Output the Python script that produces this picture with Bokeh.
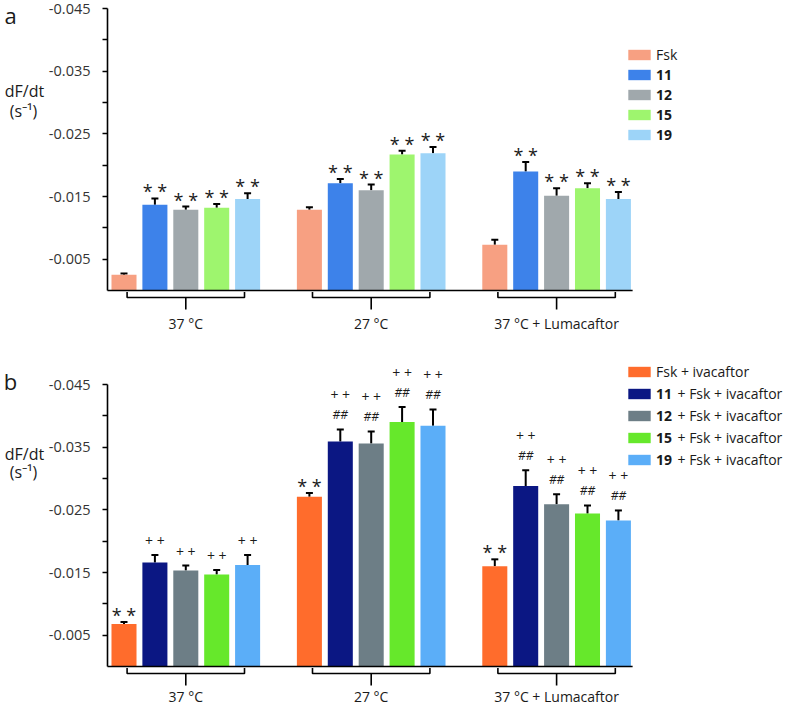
from bokeh.plotting import figure
from bokeh.layouts import column
from bokeh.models import (ColumnDataSource, Range1d, FixedTicker, NumeralTickFormatter,
                          Whisker, TeeHead, Label, Legend, LegendItem, LinearAxis)
from bokeh.core.properties import value
from bokeh.embed import file_html
from bokeh.resources import INLINE

# ---------------- data ----------------
groups = ["37 °C", "27 °C", "37 °C + Lumacaftor"]
y_ticks = [-0.045, -0.035, -0.025, -0.015, -0.005]
y_minor = [-0.040, -0.030, -0.020, -0.010]

# panel a
a_names = ["Fsk", "11", "12", "15", "19"]
a_fsk = [-0.0025, -0.0129, -0.0073]
a_fsk_err = [0.0002, 0.0004, 0.0008]
a_11 = [-0.0137, -0.0171, -0.0190]
a_11_err = [0.0010, 0.0007, 0.0015]
a_12 = [-0.0129, -0.0160, -0.0151]
a_12_err = [0.0005, 0.0009, 0.0012]
a_15 = [-0.0132, -0.0217, -0.0163]
a_15_err = [0.0006, 0.0006, 0.0008]
a_19 = [-0.0146, -0.0219, -0.0146]
a_19_err = [0.0009, 0.0010, 0.0011]
a_star = {"Fsk": ["", "", ""], "11": ["**", "**", "**"], "12": ["**", "**", "**"],
          "15": ["**", "**", "**"], "19": ["**", "**", "**"]}
a_colors = ["#F7A082", "#3D82EA", "#A0A8AC", "#9EF56E", "#9DD4F8"]

# panel b
b_names = ["Fsk + ivacaftor", "11", "12", "15", "19"]
b_suffix = "+ Fsk + ivacaftor"
b_fsk = [-0.0068, -0.0271, -0.0160]
b_fsk_err = [0.0003, 0.0006, 0.0011]
b_11 = [-0.0166, -0.0359, -0.0288]
b_11_err = [0.0012, 0.0019, 0.0025]
b_12 = [-0.0153, -0.0356, -0.0259]
b_12_err = [0.0008, 0.0019, 0.0016]
b_15 = [-0.0147, -0.0390, -0.0244]
b_15_err = [0.0007, 0.0024, 0.0013]
b_19 = [-0.0162, -0.0384, -0.0233]
b_19_err = [0.0016, 0.0026, 0.0016]
b_star = {"Fsk": ["**", "**", "**"]}
b_plus = ["++", "++", "++"]
b_hash = ["", "##", "##"]
b_colors = ["#FF6C2C", "#0B1783", "#6D7E86", "#66E82B", "#5BAEF8"]

# ---------------- layout constants ----------------
W = 788
PX_UNIT = 30.9                 # px per bar slot
FIRST_BAR_PX = 123.5           # canvas x of first bar centre
AXIS_PX = 107                  # canvas x of the y axis
XS = -FIRST_BAR_PX / PX_UNIT
XE = XS + W / PX_UNIT
X_AXIS = (AXIS_PX - FIRST_BAR_PX) / PX_UNIT
K = 282 / 0.045                # px per data unit vertically
FONT = value("Open Sans")
TXT = "#1a1a1a"


def make_panel(letter, H, top_px, vals, errs, colors, names, stars, plus, hashes,
               legend_rows, legend_spacing, title_offsets, label_px, suffix=None):
    zero_px = top_px + 282
    y_start = (H - zero_px) / K
    y_end = -0.045 - top_px / K
    p = figure(width=W, height=H, output_backend="svg", toolbar_location=None,
               x_range=Range1d(XS, XE), y_range=Range1d(y_start, y_end),
               x_axis_location=None, y_axis_location=None,
               min_border_left=0, min_border_right=0,
               min_border_top=0, min_border_bottom=0)
    p.outline_line_color = None
    p.xgrid.visible = False
    p.ygrid.visible = False

    ax = LinearAxis(fixed_location=X_AXIS)
    ax.bounds = (-0.045, 0)
    ax.ticker = FixedTicker(ticks=y_ticks, minor_ticks=y_minor)
    ax.formatter = NumeralTickFormatter(format="0.000")
    ax.axis_line_width = 1.6
    ax.axis_line_color = "black"
    ax.major_tick_out = 5
    ax.major_tick_in = 0
    ax.minor_tick_out = 5
    ax.minor_tick_in = 0
    ax.major_tick_line_width = 1.6
    ax.minor_tick_line_width = 1.6
    ax.major_label_text_font = "Open Sans"
    ax.major_label_text_font_size = "14.5px"
    ax.major_label_text_color = "#333333"
    ax.major_label_standoff = 12
    p.add_layout(ax, "left")

    renderers = []
    last_x = 0
    for i, (v, e, c) in enumerate(zip(vals, errs, colors)):
        xs = [g * 6 + i for g in range(len(groups))]
        last_x = max(last_x, xs[-1])
        tops = [vv - ee for vv, ee in zip(v, e)]
        data = dict(x=xs, top=v, err_top=tops)
        key = "Fsk" if i == 0 else names[i]
        st = stars.get(key, ["", "", ""])
        data["star"] = [" ".join(list(s)) for s in st]
        if i > 0 and plus is not None:
            data["plus"] = [" ".join(list(s)) for s in plus]
            data["hash"] = hashes
            data["plus_off"] = [-35 if h else -14 for h in hashes]
        src = ColumnDataSource(data)
        r = p.vbar(x="x", top="top", bottom=0, width=0.81, source=src,
                   fill_color=c, line_color=None)
        renderers.append(r)
        p.add_layout(Whisker(base="x", upper="err_top", lower="top", source=src,
                             dimension="height", line_width=2, line_color="black",
                             upper_head=TeeHead(size=7, line_width=2, line_color="black"),
                             lower_head=None))
        p.text(x="x", y="err_top", text="star", source=src, y_offset=-7,
               text_align="center", text_baseline="middle", text_font=FONT,
               text_font_size="18px", text_color=TXT)
        if "plus" in data:
            p.text(x="x", y="err_top", text="plus", source=src, y_offset="plus_off",
                   text_align="center", text_baseline="middle", text_font=FONT,
                   text_font_size="14px", text_color=TXT)
            p.text(x="x", y="err_top", text="hash", source=src, y_offset=-15,
                   text_align="center", text_baseline="middle", text_font=FONT,
                   text_font_size="12px", text_font_style="italic", text_color=TXT)

    # baseline (x axis line)
    p.segment(x0=[X_AXIS], x1=[last_x + 0.46], y0=[0], y1=[0], line_color="black", line_width=1.6)

    # group brackets and labels
    b1, b2, b3, bl = 1.5 / K, 7 / K, 19 / K, label_px / K
    bx, by = [], []
    for g in range(len(groups)):
        gl, gr, gc = g * 6 + 0.1, g * 6 + 3.9, g * 6 + 2
        bx.append([gl, gl, gr, gr]); by.append([b1, b2, b2, b1])
        bx.append([gc, gc]); by.append([b2, b3])
    p.multi_line(xs=bx, ys=by, line_color="black", line_width=1.6)
    p.text(x=[g * 6 + 2 for g in range(len(groups))], y=[bl] * len(groups), text=groups,
           text_align="center", text_baseline="middle", text_font=FONT,
           text_font_size="14px", text_color=TXT)

    # panel letter and y title (screen units, frame = whole canvas)
    let_off, t1, t2 = title_offsets
    p.add_layout(Label(x=10, y=H - (top_px + let_off), x_units="screen", y_units="screen",
                       text=letter, text_align="center", text_baseline="middle",
                       text_font="Open Sans", text_font_size="22px", text_color=TXT))
    p.add_layout(Label(x=24, y=H - (top_px + t1), x_units="screen", y_units="screen",
                       text="dF/dt", text_align="center", text_baseline="middle",
                       text_font="Open Sans", text_font_size="16px", text_color=TXT))
    p.add_layout(Label(x=23, y=H - (top_px + t2), x_units="screen", y_units="screen",
                       text="(s⁻¹)", text_align="center", text_baseline="middle",
                       text_font="Open Sans", text_font_size="16px", text_color=TXT))

    # legends (item height is 19 px for 14px text)
    row0, row1 = legend_rows
    item_h = 19
    lx = 625
    leg1 = Legend(items=[LegendItem(label=names[0], renderers=[renderers[0]])],
                  location=(lx, H - (row0 - 8 + item_h)))
    leg2 = Legend(items=[LegendItem(label=n, renderers=[r]) for n, r in zip(names[1:], renderers[1:])],
                  location=(lx, H - (row1 - 8 + 4 * item_h + 3 * legend_spacing)))
    for lg, bold in ((leg1, False), (leg2, True)):
        lg.glyph_width = 28
        lg.glyph_height = 13
        lg.label_height = 13
        lg.spacing = legend_spacing
        lg.padding = 0
        lg.margin = 0
        lg.label_standoff = 3
        lg.border_line_color = None
        lg.background_fill_alpha = 0
        lg.label_text_font = "Open Sans"
        lg.label_text_font_size = "14px"
        lg.label_text_color = TXT
        lg.label_text_font_style = "bold" if bold else "normal"
        p.add_layout(lg)
    if suffix:
        pitch = item_h + legend_spacing
        for j in range(4):
            p.add_layout(Label(x=677, y=H - (row1 + j * pitch + 1.5), x_units="screen", y_units="screen",
                               text=suffix, text_align="left", text_baseline="middle",
                               text_font="Open Sans", text_font_size="14px", text_color=TXT))
    return p


pa = make_panel("a", 340, 8,
                [a_fsk, a_11, a_12, a_15, a_19],
                [a_fsk_err, a_11_err, a_12_err, a_15_err, a_19_err],
                a_colors, a_names, a_star, None, None,
                legend_rows=(53, 73), legend_spacing=1,
                title_offsets=(6, 82, 102), label_px=33)
pb = make_panel("b", 367, 44,
                [b_fsk, b_11, b_12, b_15, b_19],
                [b_fsk_err, b_11_err, b_12_err, b_15_err, b_19_err],
                b_colors, b_names, b_star, b_plus, b_hash,
                legend_rows=(30, 51.7), legend_spacing=3,
                title_offsets=(-4, 69, 87), label_px=30, suffix=b_suffix)

layout = column(pa, pb, spacing=0)
open("out.html", "w").write(file_html(layout, INLINE))
